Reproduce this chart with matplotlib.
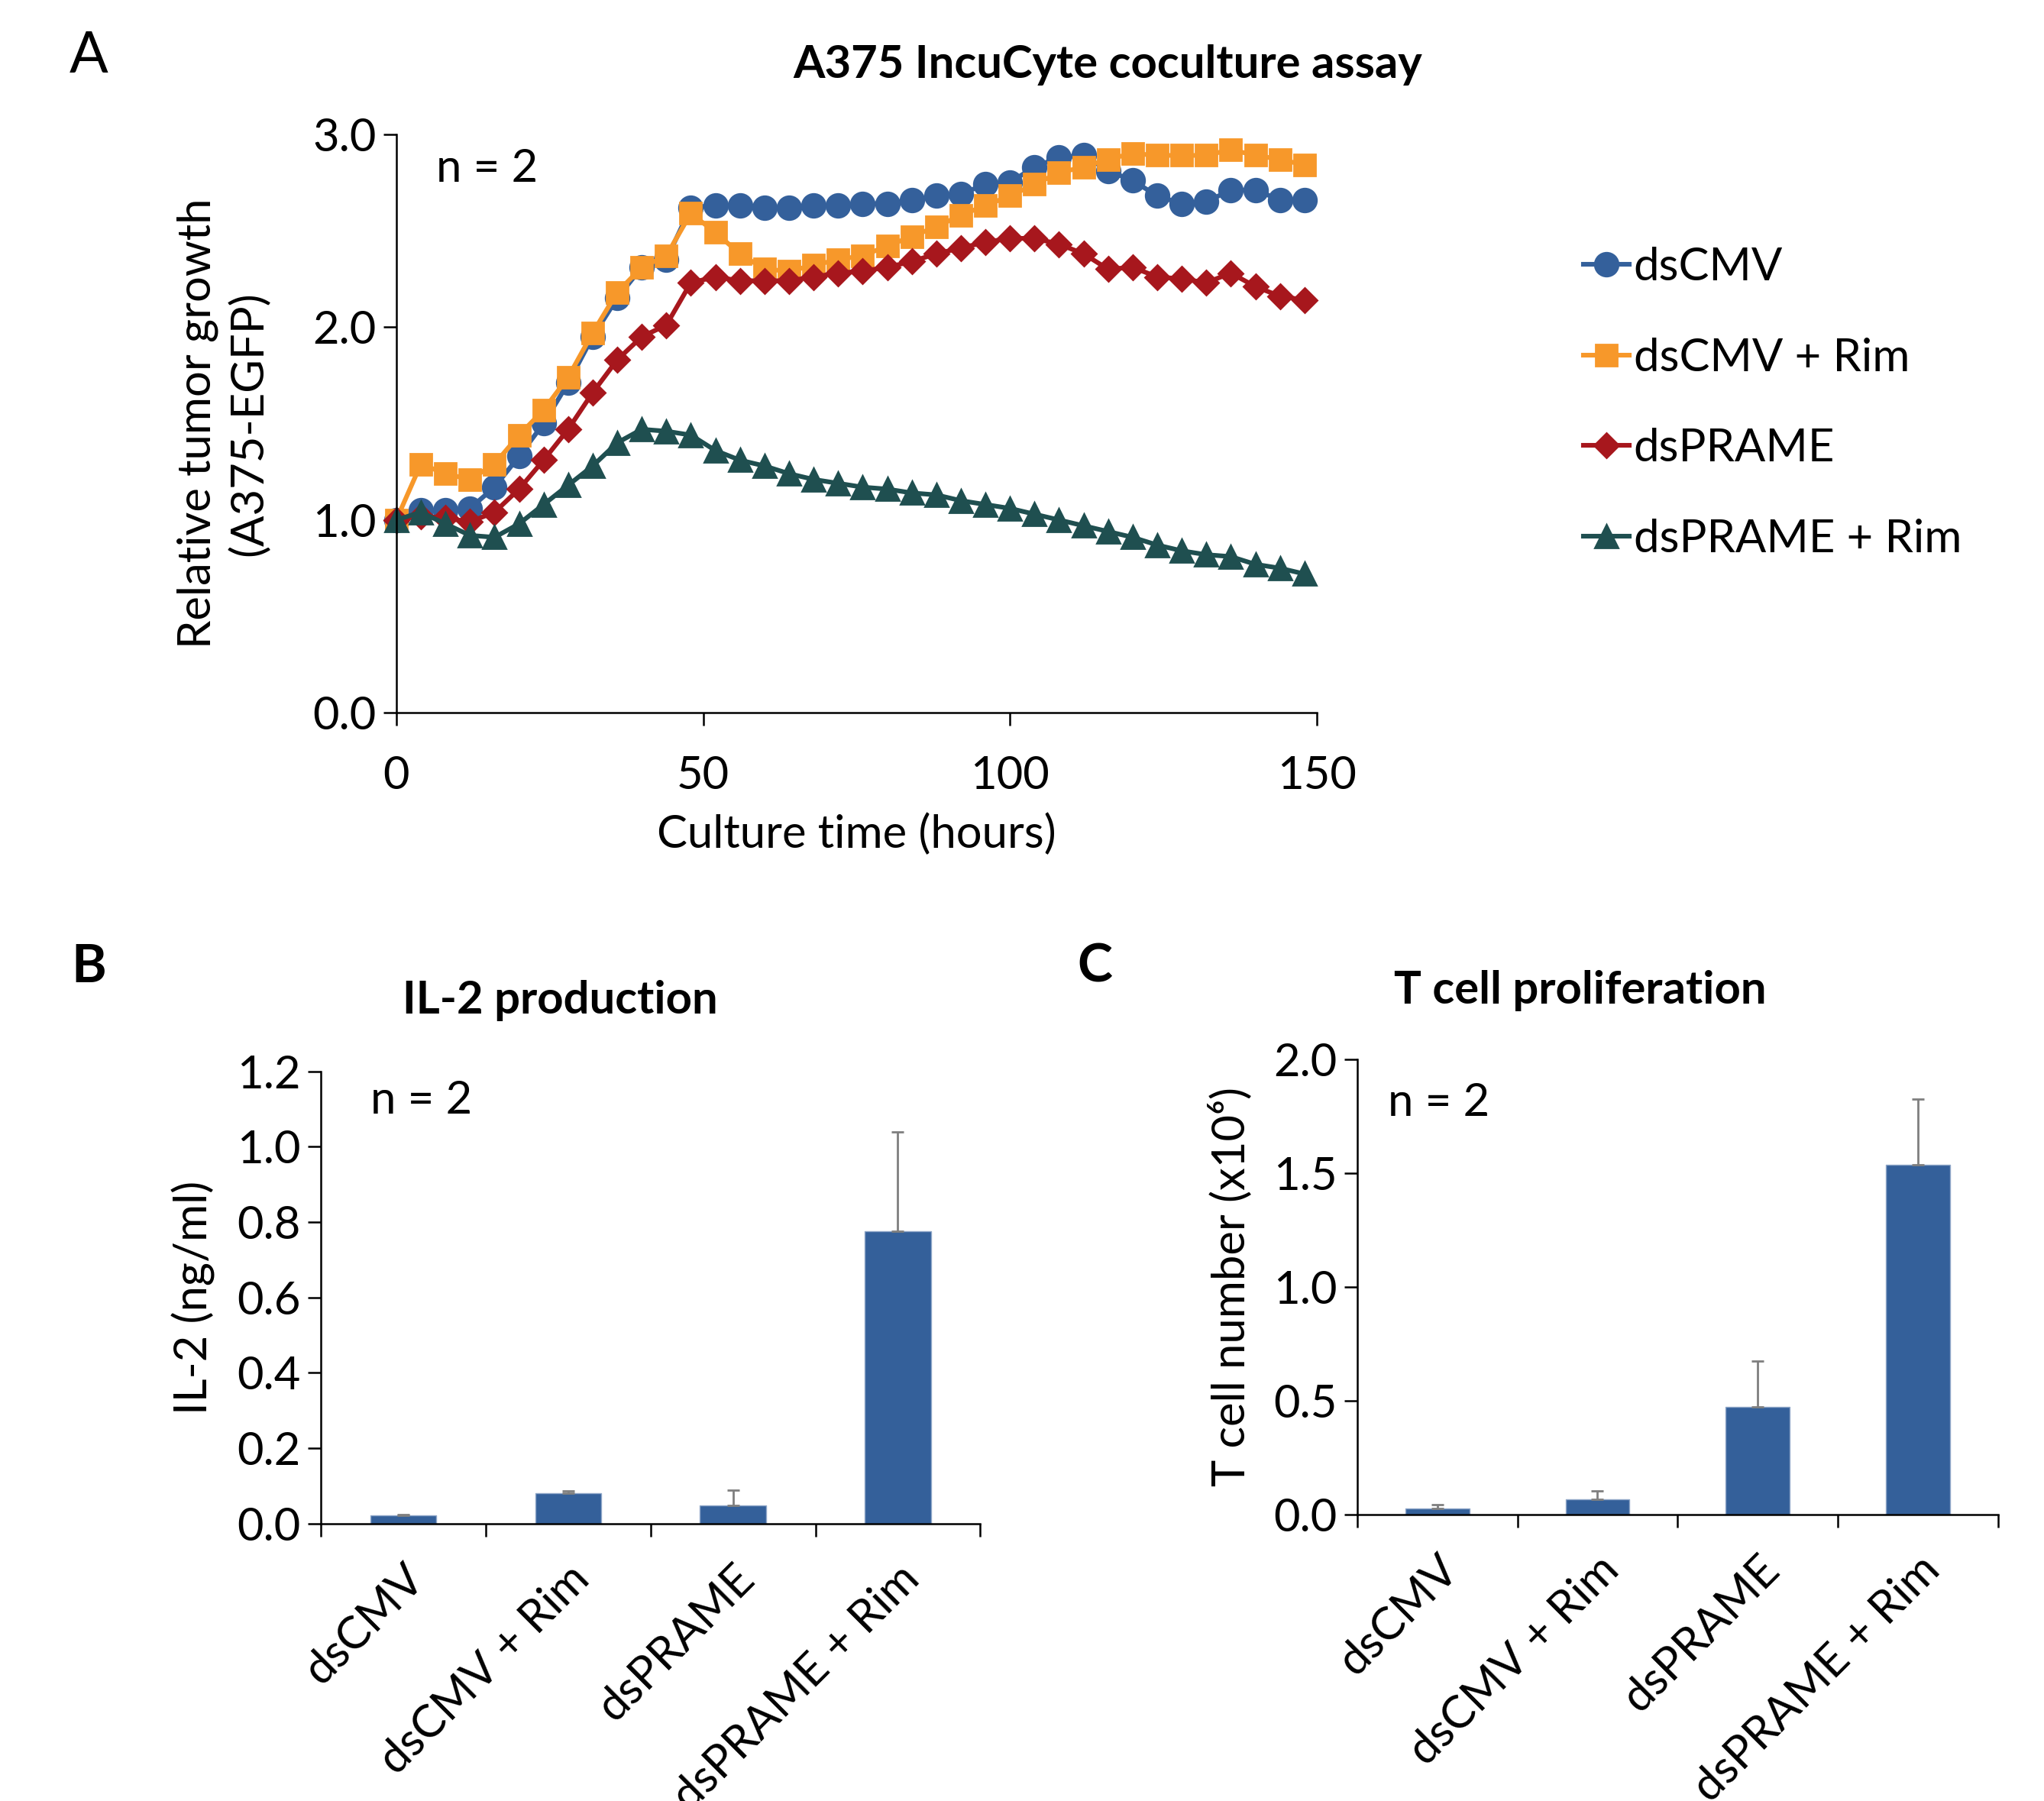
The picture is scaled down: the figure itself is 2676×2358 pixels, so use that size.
import matplotlib
matplotlib.use("Agg")
import matplotlib.pyplot as plt
from matplotlib.ticker import FormatStrFormatter

plt.rcParams['font.family'] = ['Lato', 'DejaVu Sans']

# Panel A: IncuCyte coculture, relative tumor growth
hours = [0, 4, 8, 12, 16, 20, 24, 28, 32, 36, 40, 44, 48, 52, 56, 60, 64, 68, 72, 76,
         80, 84, 88, 92, 96, 100, 104, 108, 112, 116, 120, 124, 128, 132, 136, 140, 144, 148]
ds_cmv = [1.00, 1.05, 1.05, 1.06, 1.17, 1.33, 1.50, 1.71, 1.95, 2.15, 2.31, 2.35, 2.62, 2.63, 2.63, 2.62, 2.62, 2.63, 2.63,
          2.64, 2.64, 2.66, 2.68, 2.69, 2.74, 2.75, 2.83, 2.88, 2.89, 2.81, 2.76, 2.68, 2.64, 2.65, 2.71, 2.71, 2.66, 2.66]
ds_cmv_rim = [1.00, 1.29, 1.24, 1.21, 1.29, 1.44, 1.57, 1.74, 1.97, 2.18, 2.31, 2.37, 2.59, 2.49, 2.38, 2.30, 2.29, 2.32, 2.35,
              2.37, 2.42, 2.47, 2.52, 2.58, 2.63, 2.68, 2.74, 2.80, 2.83, 2.87, 2.90, 2.89, 2.89, 2.89, 2.92, 2.89, 2.87, 2.84]
ds_prame = [1.00, 1.02, 1.01, 0.99, 1.04, 1.16, 1.31, 1.47, 1.66, 1.83, 1.95, 2.01, 2.23, 2.26, 2.24, 2.24, 2.24, 2.26, 2.28,
            2.29, 2.31, 2.34, 2.38, 2.41, 2.44, 2.46, 2.46, 2.43, 2.38, 2.30, 2.31, 2.26, 2.25, 2.23, 2.28, 2.21, 2.16, 2.14]
ds_prame_rim = [1.00, 1.04, 0.98, 0.92, 0.91, 0.98, 1.08, 1.18, 1.28, 1.40, 1.47, 1.46, 1.44, 1.36, 1.31, 1.28, 1.24, 1.21, 1.19,
                1.17, 1.16, 1.14, 1.13, 1.10, 1.08, 1.06, 1.03, 1.00, 0.97, 0.94, 0.91, 0.87, 0.84, 0.82, 0.81, 0.77, 0.75, 0.72]

# Panels B and C
groups = ["dsCMV", "dsCMV + Rim", "dsPRAME", "dsPRAME + Rim"]
il2 = [0.021, 0.080, 0.048, 0.776]
il2_err = [0.003, 0.006, 0.040, 0.262]
tcells = [0.027, 0.067, 0.473, 1.538]
tcells_err = [0.015, 0.036, 0.201, 0.287]

blue = "#34609B"
orange = "#F7982A"
red = "#A7171D"
green = "#1F4F50"
bar_blue = "#34609A"

fs = 21.5

fig = plt.figure(figsize=(13.38, 11.79), dpi=200)


def style_axes(ax):
    ax.spines['top'].set_visible(False)
    ax.spines['right'].set_visible(False)
    for s in ['left', 'bottom']:
        ax.spines[s].set_linewidth(0.9)
    ax.tick_params(direction='out', length=6, width=0.9, labelsize=fs)


# ---- Panel A ----
axA = fig.add_axes([0.1939, 0.6042, 0.4503, 0.3213])
style_axes(axA)
axA.plot(hours, ds_cmv, color=blue, lw=2.2, marker='o', ms=11, label="dsCMV", clip_on=False)
axA.plot(hours, ds_cmv_rim, color=orange, lw=2.2, marker='s', ms=10, label="dsCMV + Rim", clip_on=False)
axA.plot(hours, ds_prame, color=red, lw=2.2, marker='D', ms=8, label="dsPRAME", clip_on=False)
axA.plot(hours, ds_prame_rim, color=green, lw=2.2, marker='^', ms=11, label="dsPRAME + Rim", clip_on=False)
axA.set_xlim(0, 150)
axA.set_ylim(0, 3)
axA.set_xticks([0, 50, 100, 150])
axA.set_yticks([0, 1, 2, 3])
axA.yaxis.set_major_formatter(FormatStrFormatter('%.1f'))
axA.tick_params(axis='x', pad=14)
axA.set_xlabel("Culture time (hours)", fontsize=fs, labelpad=8)
axA.set_ylabel("Relative tumor growth\n(A375-EGFP)", fontsize=fs, labelpad=20, linespacing=1.25)
axA.text(0.043, 0.94, "n = 2", transform=axA.transAxes, fontsize=fs, va='center', ha='left')
axA.legend(loc='center left', bbox_to_anchor=(1.27, 0.535), frameon=False, fontsize=fs,
           handlelength=1.0, handletextpad=0.1, labelspacing=1.08, borderaxespad=0)
fig.text(0.542, 0.964, "A375 IncuCyte coculture assay", fontsize=fs, fontweight='bold', ha='center', va='center')
fig.text(0.0434, 0.969, "A", fontsize=27, ha='center', va='center')


def bar_panel(rect, values, errs, ylim, yticks, ylabel, title, title_xy, letter_xy, letter, n_xy):
    ax = fig.add_axes(rect)
    style_axes(ax)
    x = list(range(len(groups)))
    ax.bar(x, values, width=0.4, color=bar_blue, edgecolor='#8fa7c8', linewidth=0.5,
           yerr=[[0] * len(errs), errs], error_kw=dict(ecolor='#7f7f7f', elinewidth=1.0, capsize=3, capthick=1.0))
    ax.set_xlim(-0.5, 3.5)
    ax.set_ylim(*ylim)
    ax.set_yticks(yticks)
    ax.yaxis.set_major_formatter(FormatStrFormatter('%.1f'))
    ax.set_xticks([-0.5, 0.5, 1.5, 2.5, 3.5])
    ax.set_xticklabels([])
    ax.set_xticks(x, minor=True)
    ax.set_xticklabels(groups, minor=True, rotation=45, ha='right', rotation_mode='anchor', fontsize=fs)
    ax.tick_params(axis='x', which='minor', length=0, pad=16)
    ax.set_ylabel(ylabel, fontsize=fs, labelpad=10)
    ax.text(n_xy[0], n_xy[1], "n = 2", transform=ax.transAxes, fontsize=fs, va='center', ha='left')
    fig.text(title_xy[0], title_xy[1], title, fontsize=fs, fontweight='bold', ha='center', va='center')
    fig.text(letter_xy[0], letter_xy[1], letter, fontsize=25, fontweight='bold', ha='center', va='center')
    return ax


bar_panel([0.1569, 0.1541, 0.3227, 0.2511], il2, il2_err, (0, 1.2), [0, 0.2, 0.4, 0.6, 0.8, 1.0, 1.2],
          "IL-2 (ng/ml)", "IL-2 production", (0.2742, 0.4443), (0.0434, 0.463), "B", (0.075, 0.935))
bar_panel([0.6639, 0.1592, 0.3138, 0.2525], tcells, tcells_err, (0, 2.0), [0, 0.5, 1.0, 1.5, 2.0],
          "T cell number (x10\u2076)", "T cell proliferation", (0.773, 0.450), (0.5357, 0.463), "C", (0.048, 0.905))

fig.savefig("out.png", dpi=200)
